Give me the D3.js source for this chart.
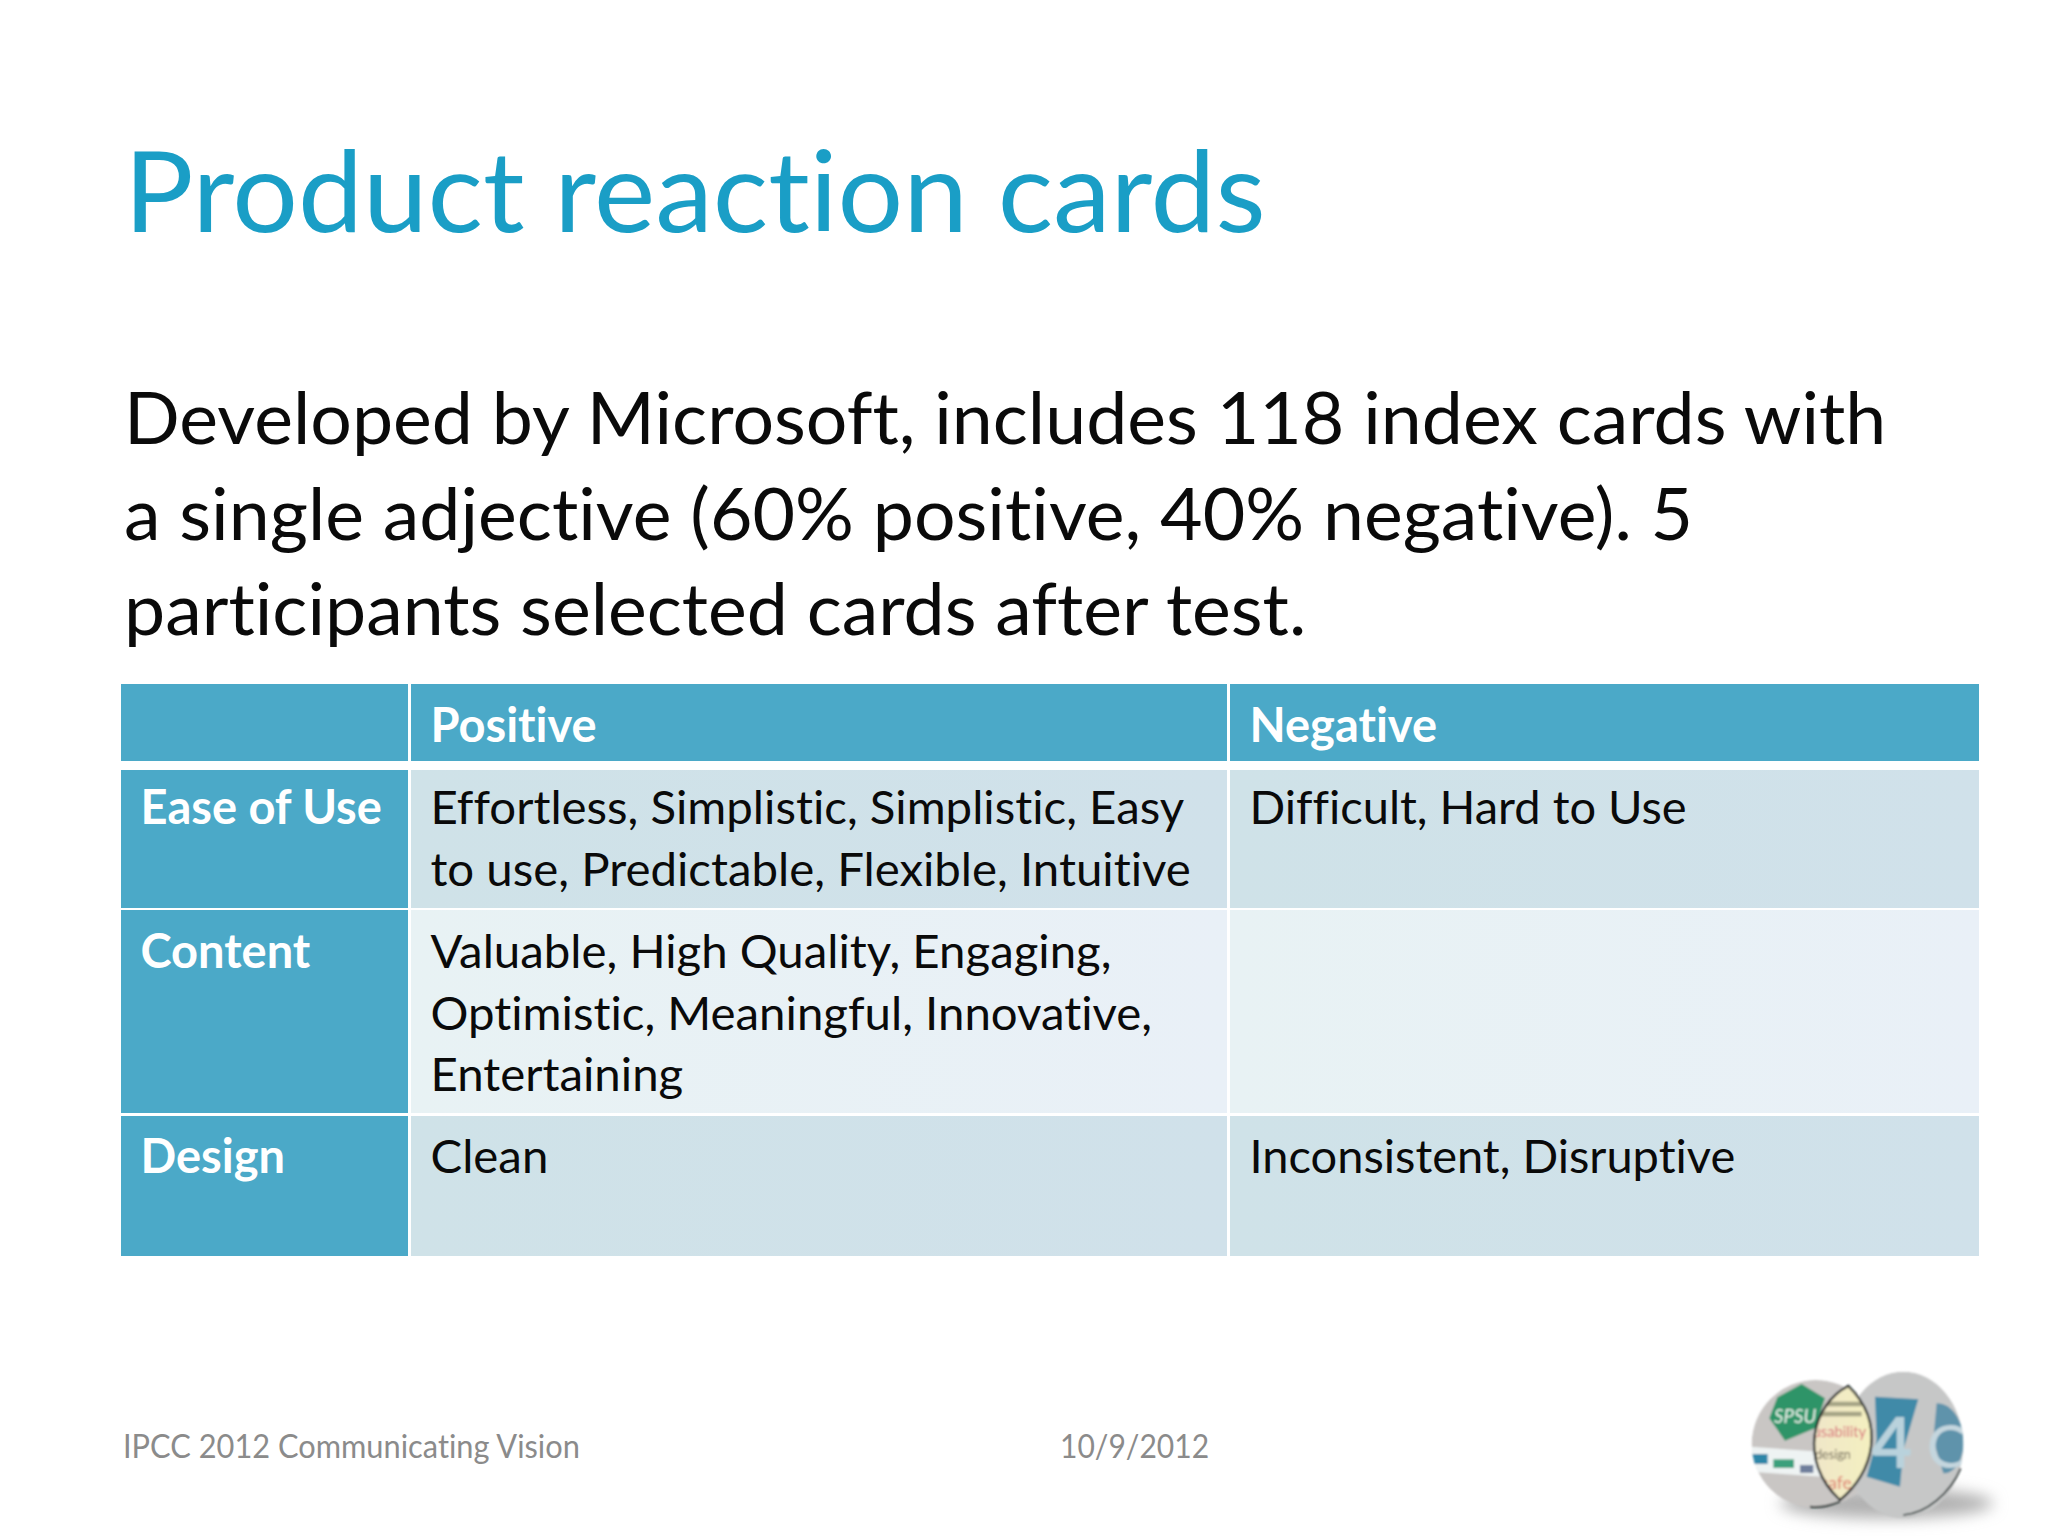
<!DOCTYPE html>
<html>
<head>
<meta charset="utf-8">
<script src="https://cdnjs.cloudflare.com/ajax/libs/d3/7.8.5/d3.min.js"></script>
<style>
  html, body { margin: 0; padding: 0; background: #fff; }
  text { font-family: Lato, "Open Sans", sans-serif; font-variant-ligatures: none; }
</style>
</head>
<body>
<div id="slide"></div>
<script>
const titleText = 'Product reaction cards';
const introLines = [
    'Developed by Microsoft, includes 118 index cards with',
    'a single adjective (60% positive, 40% negative). 5',
    'participants selected cards after test.'
];
const columns = ['', 'Positive', 'Negative'];
const rowLabels = ['Ease of Use', 'Content', 'Design'];
const positiveCards = [
    ['Effortless, Simplistic, Simplistic, Easy', 'to use, Predictable, Flexible, Intuitive'],
    ['Valuable, High Quality, Engaging,', 'Optimistic, Meaningful, Innovative,', 'Entertaining'],
    ['Clean']
];
const negativeCards = [
    ['Difficult, Hard to Use'],
    [],
    ['Inconsistent, Disruptive']
];
const footerLeft = 'IPCC 2012 Communicating Vision';
const footerDate = '10/9/2012';

const outerWidth = 2048;
const outerHeight = 1536;

const svg = d3.select('#slide')
    .append('svg')
    .attr('width', outerWidth)
    .attr('height', outerHeight)
    .style('display', 'block');

const defs = svg.append('defs');

function gradient(id, from, to) {
    const g = defs.append('linearGradient').attr('id', id);
    g.append('stop').attr('offset', '0%').attr('stop-color', from);
    g.append('stop').attr('offset', '100%').attr('stop-color', to);
}
gradient('rowDark', '#cfe2e8', '#d0e1ea');
gradient('rowPale', '#e8f2f4', '#e9f0f7');
gradient('lensFill', '#f0e6c8', '#f4f0c0');

// Calibri is not installed, Lato is its nearest relative, so each line
// gets stretched a little to the reference width
function addText(parent, str, x, y, size, fill, stretch, weight) {
    const t = parent.append('text')
        .attr('x', x)
        .attr('y', y)
        .attr('font-size', size)
        .attr('font-weight', weight || 400)
        .attr('fill', fill)
        .text(str);
    const len = t.node().getComputedTextLength();
    t.attr('textLength', len * stretch).attr('lengthAdjust', 'spacingAndGlyphs');
    return t;
}

addText(svg, titleText, 124, 232, 112, '#1a9ec6', 1.035);

const introY = d3.scalePoint()
    .domain(d3.range(introLines.length))
    .range([444, 635]);
introLines.forEach((line, i) => addText(svg, line, 124, introY(i), 72, '#0a0a0a', 1.02));

// Table: the slide's rows and columns have uneven sizes, so ordinal scales
const colLeft = d3.scaleOrdinal().domain(columns).range([121, 411, 1230]);
const colRight = d3.scaleOrdinal().domain(columns).range([408, 1227, 1979]);
const rowKeys = ['header'].concat(rowLabels);
const rowTop = d3.scaleOrdinal().domain(rowKeys).range([684, 770, 910, 1116]);
const rowBottom = d3.scaleOrdinal().domain(rowKeys).range([761, 908, 1113, 1256]);
const rowFirstLine = d3.scaleOrdinal().domain(rowKeys).range([742, 824, 968, 1173]);

const headFill = '#4ba9c8';
const lineStep = 61.5;
const tableSize = 47;
const tableG = svg.append('g');

const cells = [];
rowKeys.forEach((row, r) => {
    columns.forEach((col, c) => {
        let fill = headFill;
        if (r > 0 && c > 0) fill = r === 2 ? 'url(#rowPale)' : 'url(#rowDark)';
        cells.push({ row, col, fill });
    });
});

tableG.selectAll('rect')
    .data(cells)
    .enter()
    .append('rect')
    .attr('x', d => colLeft(d.col))
    .attr('y', d => rowTop(d.row))
    .attr('width', d => colRight(d.col) - colLeft(d.col))
    .attr('height', d => rowBottom(d.row) - rowTop(d.row))
    .attr('fill', d => d.fill);

const textPad = 19.5;
columns.slice(1).forEach(col => {
    addText(tableG, col, colLeft(col) + textPad, rowFirstLine('header'), tableSize, '#fff', 1, 700);
});
rowLabels.forEach((label, i) => {
    addText(tableG, label, colLeft('') + textPad, rowFirstLine(label), tableSize, '#fff', 1, 700);
    positiveCards[i].forEach((line, j) => {
        addText(tableG, line, colLeft('Positive') + textPad, rowFirstLine(label) + j * lineStep, tableSize, '#0a0a0a', 1.008);
    });
    negativeCards[i].forEach((line, j) => {
        addText(tableG, line, colLeft('Negative') + textPad, rowFirstLine(label) + j * lineStep, tableSize, '#0a0a0a', 1);
    });
});

addText(svg, footerLeft, 123, 1458, 33, '#8b8b8b', 0.933);
addText(svg, footerDate, 1060, 1458, 33, '#8b8b8b', 0.91);

// Logo, coordinates follow a 3x crop of the corner so the group is scaled down
const blur = defs.append('filter').attr('id', 'soft');
blur.append('feGaussianBlur').attr('stdDeviation', 2.5);
const shadowBlur = defs.append('filter').attr('id', 'shadow')
    .attr('x', '-30%').attr('y', '-60%').attr('width', '160%').attr('height', '220%');
shadowBlur.append('feGaussianBlur').attr('stdDeviation', 22);

defs.append('clipPath').attr('id', 'leftDisc')
    .append('circle').attr('cx', 347).attr('cy', 312).attr('r', 192);
defs.append('clipPath').attr('id', 'rightDisc')
    .append('ellipse').attr('cx', 610).attr('cy', 315).attr('rx', 180).attr('ry', 220);
const lensPath = 'M445,138 C340,190 290,360 420,480 C520,400 560,250 445,138 Z';
defs.append('clipPath').attr('id', 'lens').append('path').attr('d', lensPath);

const logo = svg.append('g')
    .attr('transform', 'translate(1700,1340) scale(0.3333)');

logo.append('ellipse')
    .attr('cx', 560).attr('cy', 490).attr('rx', 320).attr('ry', 45)
    .attr('fill', '#b0b0b0')
    .attr('filter', 'url(#shadow)');

const inner = logo.append('g').attr('filter', 'url(#soft)');

const leftG = inner.append('g').attr('clip-path', 'url(#leftDisc)');
leftG.append('circle').attr('cx', 347).attr('cy', 312).attr('r', 192).attr('fill', '#c9c6c4');
leftG.append('path')
    .attr('d', 'M305,132 L375,175 L345,265 L255,302 L208,235 L232,172 Z')
    .attr('fill', '#2f9468');
leftG.append('text')
    .attr('x', 222).attr('y', 250).attr('font-size', 56)
    .attr('font-style', 'italic').attr('fill', '#e8f2ea')
    .text('SPSU');
leftG.append('rect').attr('x', 150).attr('y', 328).attr('width', 220).attr('height', 75)
    .attr('fill', '#eef3f3').attr('transform', 'rotate(4 260 365)');
leftG.append('rect').attr('x', 155).attr('y', 342).attr('width', 48).attr('height', 30).attr('fill', '#2f86a8');
leftG.append('rect').attr('x', 220).attr('y', 358).attr('width', 62).attr('height', 26).attr('fill', '#3aa07c');
leftG.append('rect').attr('x', 300).attr('y', 375).attr('width', 40).attr('height', 24).attr('fill', '#6f7f9c');

const rightG = inner.append('g').attr('clip-path', 'url(#rightDisc)');
rightG.append('ellipse').attr('cx', 610).attr('cy', 315).attr('rx', 180).attr('ry', 220).attr('fill', '#c6c7c7');
rightG.append('path')
    .attr('d', 'M710,190 C760,190 795,250 790,320 C785,370 760,400 730,400 L700,300 Z')
    .attr('fill', '#5f93ab');
rightG.append('path')
    .attr('d', 'M525,170 L655,178 L610,330 L600,440 L500,410 L530,300 Z')
    .attr('fill', '#3f8aa8');
rightG.append('text')
    .attr('x', 515).attr('y', 385).attr('font-size', 210).attr('font-weight', 700)
    .attr('fill', '#b9d2dc')
    .text('4');
rightG.append('text')
    .attr('x', 680).attr('y', 385).attr('font-size', 180)
    .attr('fill', '#c4d6de')
    .text('C');

const lensG = inner.append('g').attr('clip-path', 'url(#lens)');
lensG.append('path').attr('d', lensPath).attr('fill', 'url(#lensFill)');
lensG.append('rect').attr('x', 375).attr('y', 185).attr('width', 110).attr('height', 14).attr('fill', '#a6a486');
lensG.append('rect').attr('x', 355).attr('y', 215).attr('width', 130).attr('height', 14).attr('fill', '#a6a486');
lensG.append('text')
    .attr('x', 338).attr('y', 290).attr('font-size', 44).attr('fill', '#d8707a')
    .text('usability');
lensG.append('text')
    .attr('x', 345).attr('y', 358).attr('font-size', 38).attr('fill', '#6f6a58')
    .text('design');
lensG.append('text')
    .attr('x', 362).attr('y', 448).attr('font-size', 52).attr('fill', '#df7f70')
    .text('safe');

inner.append('path')
    .attr('d', lensPath)
    .attr('fill', 'none')
    .attr('stroke', '#1d2422')
    .attr('stroke-width', 7);
inner.append('path')
    .attr('d', 'M610,525 C680,520 750,460 782,385')
    .attr('fill', 'none').attr('stroke', '#22302f').attr('stroke-width', 5);
inner.append('path')
    .attr('d', 'M330,500 C360,505 395,495 420,485')
    .attr('fill', 'none').attr('stroke', '#22302f').attr('stroke-width', 6);
</script>
</body>
</html>
